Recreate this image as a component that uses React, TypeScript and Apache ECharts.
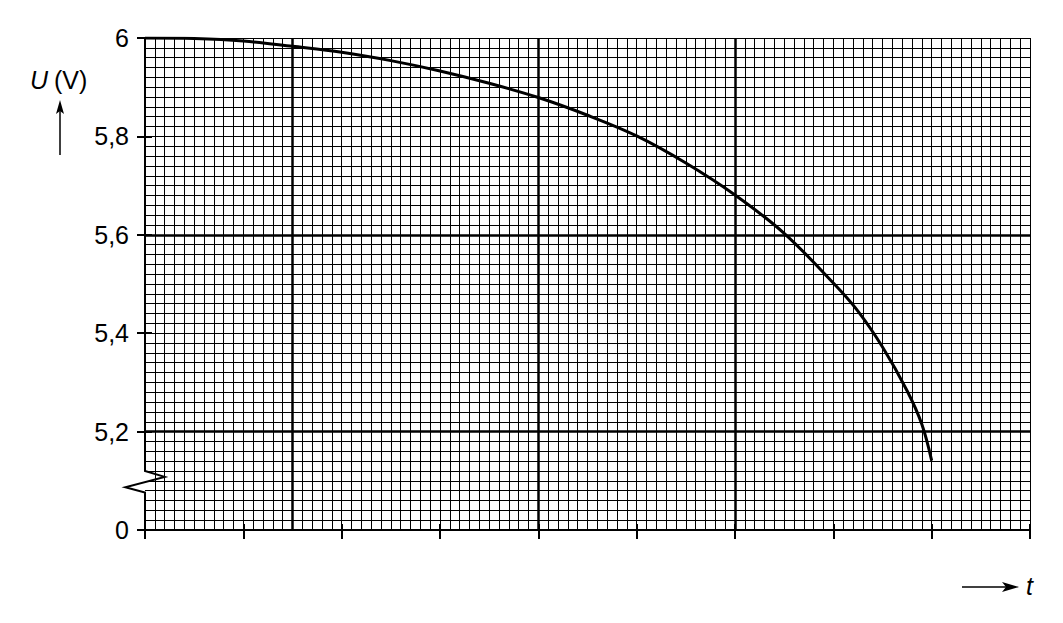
import { useEffect, useRef } from "react"
import * as echarts from "echarts"

// curve
const timeValues = [0, 0.5, 1, 1.5, 2, 2.5, 3, 3.5, 4, 4.5, 5, 5.5, 6, 6.5, 7, 7.25, 7.5, 7.75, 7.9, 8]
const voltageValues = [
  6.0, 5.999, 5.994, 5.983, 5.971, 5.954, 5.933, 5.908, 5.879, 5.843, 5.801, 5.746, 5.681, 5.603,
  5.502, 5.445, 5.372, 5.283, 5.215, 5.141,
]

// y tick labels (bottom one is the broken-axis "0")
const yTickLabels = ["0", "5,2", "5,4", "5,6", "5,8", "6"]

// heavier lines on the paper
const boldTimeLines = [1.5, 4, 6]
const boldVoltageLines = [5.6, 5.2]

// broken y axis with zigzag
const axisBreakT = [0, 0, 0.2, -0.2, 0, 0]
const axisBreakU = [6, 5.12, 5.108, 5.087, 5.076, 5]

const FONT = "'Liberation Sans', Arial, Helvetica, sans-serif"

export default function App() {
  const hostRef = useRef<HTMLDivElement>(null)

  useEffect(() => {
    document.body.style.margin = "0"
    const el = hostRef.current
    if (!el) return
    const chart = echarts.init(el, undefined, { renderer: "svg" })

    const gridLine = { color: "#000", width: 1 }
    const tickStyle = { color: "#000", width: 2 }

    chart.setOption({
      animation: false,
      backgroundColor: "#fff",
      grid: { left: 145, right: 33, top: 38, bottom: 93 },
      xAxis: [
        {
          type: "value",
          min: 0,
          max: 9,
          interval: 1,
          axisLine: { show: true, onZero: false, lineStyle: { color: "#000", width: 2 } },
          axisTick: { show: true, length: 9, lineStyle: tickStyle },
          axisLabel: { show: false },
          splitLine: { show: true, showMinLine: false, lineStyle: gridLine },
          minorTick: { show: false, splitNumber: 10 },
          minorSplitLine: { show: true, lineStyle: gridLine },
        },
        {
          type: "value",
          min: 0,
          max: 9,
          interval: 1,
          position: "bottom",
          axisLine: { show: false },
          axisTick: { show: true, inside: true, length: 6, lineStyle: tickStyle },
          axisLabel: { show: false },
          splitLine: { show: false },
        },
      ],
      yAxis: [
        {
          type: "value",
          min: 5,
          max: 6,
          interval: 0.2,
          axisLine: { show: false },
          axisTick: { show: true, length: 8, lineStyle: tickStyle },
          axisLabel: {
            color: "#000",
            fontFamily: FONT,
            fontSize: 25,
            margin: 16,
            formatter: (v: number) => yTickLabels[Math.round((v - 5) / 0.2)] ?? "",
          },
          splitLine: { show: true, lineStyle: gridLine },
          minorTick: { show: false, splitNumber: 10 },
          minorSplitLine: { show: true, lineStyle: gridLine },
        },
        {
          type: "value",
          min: 5,
          max: 6,
          interval: 0.2,
          position: "left",
          axisLine: { show: false },
          axisTick: { show: true, inside: true, length: 7, lineStyle: tickStyle },
          axisLabel: { show: false },
          splitLine: { show: false },
        },
      ],
      series: [
        {
          type: "line",
          data: timeValues.map((t, i) => [t, voltageValues[i]]),
          symbol: "none",
          smooth: 0.35,
          z: 5,
          lineStyle: { color: "#000", width: 3 },
          markLine: {
            silent: true,
            symbol: "none",
            label: { show: false },
            lineStyle: { color: "#000", width: 2.5, type: "solid" },
            data: [
              ...boldTimeLines.map((t) => ({ xAxis: t })),
              ...boldVoltageLines.map((u) => ({ yAxis: u })),
            ],
          },
        },
      ],
    })

    // the broken y axis goes through the grid's own scale
    const breakPts = axisBreakT.map((t, i) => chart.convertToPixel({ gridIndex: 0 }, [t, axisBreakU[i]]))

    chart.setOption({
      graphic: [
        {
          type: "polyline",
          shape: { points: breakPts },
          style: { stroke: "#000", lineWidth: 2, fill: null },
          z: 10,
        },
        {
          type: "text",
          left: 30,
          top: 67,
          style: { text: "U", font: `italic 25px ${FONT}`, fill: "#000" },
        },
        {
          type: "text",
          left: 54,
          top: 67,
          style: { text: "(V)", font: `25px ${FONT}`, fill: "#000" },
        },
        {
          type: "line",
          shape: { x1: 60, y1: 155, x2: 60, y2: 108 },
          style: { stroke: "#000", lineWidth: 1.5 },
        },
        {
          type: "polygon",
          shape: { points: [[60, 100], [56, 114], [60, 111], [64, 114]] },
          style: { fill: "#000" },
        },
        {
          type: "line",
          shape: { x1: 962, y1: 587, x2: 1008, y2: 587 },
          style: { stroke: "#000", lineWidth: 1.5 },
        },
        {
          type: "polygon",
          shape: { points: [[1019, 587], [1002, 582], [1006, 587], [1002, 592]] },
          style: { fill: "#000" },
        },
        {
          type: "text",
          left: 1026,
          top: 573,
          style: { text: "t", font: `italic 25px ${FONT}`, fill: "#000" },
        },
      ],
    })

    return () => chart.dispose()
  }, [])

  return <div ref={hostRef} style={{ width: 1063, height: 623 }} />
}
